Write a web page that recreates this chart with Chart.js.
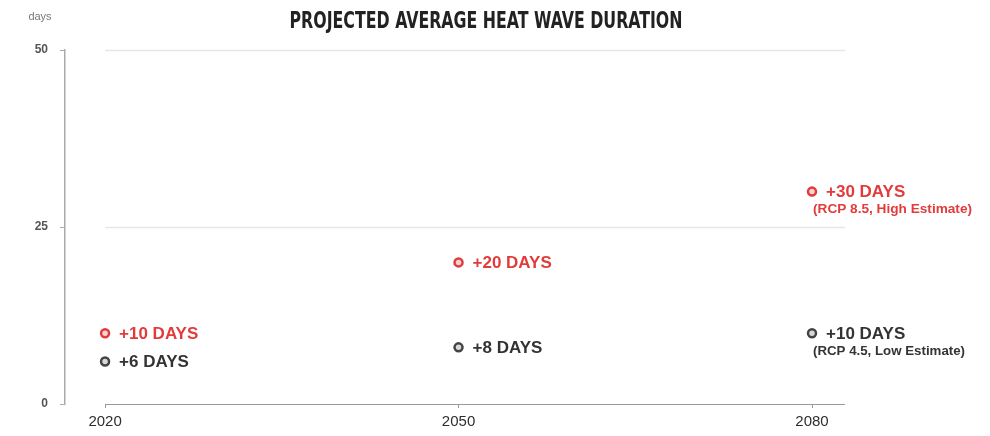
<!DOCTYPE html>
<html>
<head>
<meta charset="utf-8">
<script src="https://cdn.jsdelivr.net/npm/chart.js@4"></script>
<style>
    body { margin: 0; background: #fff; }
    #wrap { width: 990px; height: 436px; position: relative; }
</style>
</head>
<body>
<div id="wrap"><canvas id="graficoOlas"></canvas></div>
<script>
// Datos
const years = [2020, 2050, 2080];
const highValues = [10, 20, 30];
const lowValues = [6, 8, 10];
const highLabels = ['+10 DAYS', '+20 DAYS', '+30 DAYS'];
const lowLabels = ['+6 DAYS', '+8 DAYS', '+10 DAYS'];
const highNotes = ['', '', '(RCP 8.5, High Estimate)'];
const lowNotes = ['', '', '(RCP 4.5, Low Estimate)'];
const yTicks = [0, 25, 50];
const chartTitle = 'PROJECTED AVERAGE HEAT WAVE DURATION';
const yUnit = 'days';

const RED = '#e23b3b';
const DARK = '#333333';

const toPoints = vals => years.map((y, i) => ({ x: y, y: vals[i] }));

const decoraciones = {
    id: 'decoraciones',
    beforeDatasetsDraw(chart) {
        const ctx = chart.ctx;
        const x = chart.scales.x, y = chart.scales.y;
        const left = x.getPixelForValue(years[0]);
        const right = chart.chartArea.right;
        ctx.save();
        // lineas de guia horizontales
        ctx.strokeStyle = '#e6e6e6';
        ctx.lineWidth = 1.5;
        yTicks.filter(v => v > 0).forEach(v => {
            const py = Math.round(y.getPixelForValue(v)) + 0.5;
            ctx.beginPath();
            ctx.moveTo(left, py);
            ctx.lineTo(right, py);
            ctx.stroke();
        });
        // eje x
        const by = Math.round(y.getPixelForValue(0)) + 0.5;
        ctx.strokeStyle = '#9a9a9a';
        ctx.lineWidth = 1.2;
        ctx.beginPath();
        ctx.moveTo(left, by);
        ctx.lineTo(right, by);
        ctx.stroke();
        ctx.restore();
    },
    afterDatasetsDraw(chart) {
        const ctx = chart.ctx;
        ctx.save();
        // titulo
        ctx.fillStyle = '#222';
        ctx.font = 'bold 23px "Liberation Sans Narrow", "DejaVu Sans Condensed", sans-serif';
        ctx.textAlign = 'center';
        ctx.textBaseline = 'middle';
        const w = ctx.measureText(chartTitle).width;
        ctx.translate(486, 22);
        ctx.scale(393 / w, 1);
        ctx.fillText(chartTitle, 0, 0);
        ctx.setTransform(1, 0, 0, 1, 0, 0);
        // unidad del eje y
        ctx.fillStyle = '#777';
        ctx.font = '11px "Liberation Sans", Arial, sans-serif';
        ctx.textAlign = 'center';
        ctx.fillText(yUnit, 40, 17);
        // etiquetas de los puntos
        const sets = [
            { idx: 0, labels: highLabels, notes: highNotes, color: RED },
            { idx: 1, labels: lowLabels, notes: lowNotes, color: DARK }
        ];
        sets.forEach(s => {
            chart.getDatasetMeta(s.idx).data.forEach((pt, i) => {
                ctx.fillStyle = s.color;
                ctx.textAlign = 'left';
                ctx.textBaseline = 'middle';
                ctx.font = 'bold 17px "Liberation Sans", Arial, sans-serif';
                ctx.fillText(s.labels[i], pt.x + 14, pt.y + 1);
                if (s.notes[i]) {
                    ctx.font = 'bold 12.5px "Liberation Sans", Arial, sans-serif';
                    const nw = ctx.measureText(s.notes[i]).width;
                    const target = i === 2 && s.idx === 0 ? 159 : 152;
                    ctx.save();
                    ctx.translate(pt.x + 1, pt.y + 18);
                    ctx.scale(target / nw, 1);
                    ctx.fillText(s.notes[i], 0, 0);
                    ctx.restore();
                }
            });
        });
        ctx.restore();
    }
};

const ctxOlas = document.getElementById('graficoOlas').getContext('2d');
new Chart(ctxOlas, {
    type: 'scatter',
    data: {
        datasets: [{
            label: 'High',
            data: toPoints(highValues),
            borderColor: RED,
            backgroundColor: '#f7d4d4',
            pointRadius: 4,
            pointBorderWidth: 2.5,
            pointHoverRadius: 4
        }, {
            label: 'Low',
            data: toPoints(lowValues),
            borderColor: '#444',
            backgroundColor: '#d8d8d8',
            pointRadius: 4,
            pointBorderWidth: 2.5,
            pointHoverRadius: 4
        }]
    },
    options: {
        responsive: true,
        maintainAspectRatio: false,
        animation: false,
        layout: { padding: { left: 10, top: 50, right: 145, bottom: 0 } },
        plugins: {
            legend: { display: false },
            tooltip: { enabled: false }
        },
        scales: {
            x: {
                type: 'linear',
                min: 2016.6,
                max: 2082.8,
                afterBuildTicks: s => { s.ticks = years.map(v => ({ value: v })); },
                afterFit: s => { s.height = 32; },
                border: { display: false },
                grid: { display: true, drawOnChartArea: false, drawTicks: true, tickLength: 4, color: '#999' },
                ticks: {
                    padding: 5,
                    color: '#2e2e2e',
                    font: { family: '"Liberation Sans", Arial, sans-serif', size: 15 },
                    callback: v => String(v)
                }
            },
            y: {
                min: 0,
                max: 50,
                afterBuildTicks: s => { s.ticks = yTicks.map(v => ({ value: v })); },
                afterFit: s => { s.width = 55; },
                border: { display: true, color: '#aaa', width: 1.5 },
                grid: { display: true, drawOnChartArea: false, drawTicks: true, tickLength: 5, color: '#aaa' },
                ticks: {
                    padding: 12,
                    color: '#555',
                    font: { family: '"Liberation Sans", Arial, sans-serif', size: 12, weight: 'bold' }
                }
            }
        }
    },
    plugins: [decoraciones]
});
</script>
</body>
</html>
